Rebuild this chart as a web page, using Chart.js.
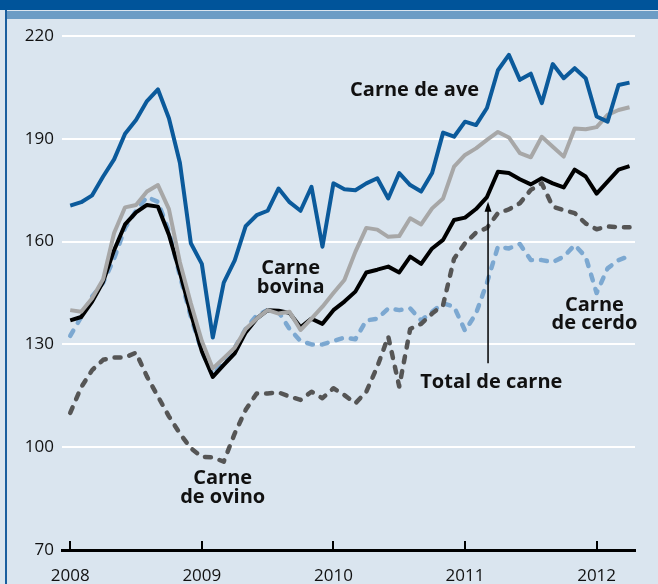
<!DOCTYPE html>
<html>
<head>
<meta charset="utf-8">
<script src="https://cdn.jsdelivr.net/npm/chart.js@4"></script>
<style>
  body { margin: 0; background: #dae5ef; }
  #wrap { position: relative; width: 658px; height: 584px; overflow: hidden; }
  #topBar { position: absolute; left: 0; top: 0; width: 658px; height: 10px; background: #00549a; }
  #subBar { position: absolute; left: 6px; top: 11px; width: 652px; height: 8px; background: #6b9cc5; }
  #leftLine { position: absolute; left: 5px; top: 10px; width: 2px; height: 574px; background: #1a5f9f; }
  canvas { position: absolute; left: 0; top: 0; }
</style>
</head>
<body>
<div id="wrap">
  <canvas id="meatChart" width="658" height="584"></canvas>
  <div id="topBar"></div>
  <div id="subBar"></div>
  <div id="leftLine"></div>
</div>
<script>
// Monthly index values, Jan 2008 (0) .. Apr 2012 (51)
const carneAve = [170.5,171.5,173.5,179,184,191.5,195.5,201,204.4,196,183,159.5,153.5,132,148,154.5,164.5,167.7,169,175.5,171.5,169,176,158.5,177,175.3,175,177,178.5,172.6,180,176.5,174.6,180,191.8,190.6,195,194,199,210,214.5,207.2,209,200.4,211.8,207.7,210.6,207.7,196.5,195,205.7,206.4];
const totalCarne = [137,138,142.5,148.3,157.5,165,168.5,170.7,170.2,162,151,139,128,120.5,124,127.4,133.5,137.5,140,139.8,139.2,135,137.5,136,140,142.5,145.4,151,151.8,152.7,151,155.6,153.5,158,160.5,166.3,167,169.5,173,180.4,180,178.2,176.7,178.5,177,175.8,181,179,174,177.5,181,182];
const carneBovina = [140,139.5,143.5,149,162.5,170,170.7,174.6,176.5,169.5,154,142,131,123,126,129,134.5,137.5,140,139,139.5,134.2,137.5,141,145,148.8,157,164,163.5,161.4,161.6,166.8,165,169.7,172.6,181.9,185.3,187.2,189.7,192,190.4,185.8,184.6,190.6,187.7,184.8,193,192.8,193.4,197,198.4,199.2];
const carneCerdo = [132.5,138,144,148,155,164,169,173,171.6,163,150,138,128,121,125,129,134.5,138.5,140,139.5,134.5,131,130,130,131,132,131.5,137,137.5,140.5,140,140.5,137,139.5,142,141,134,139,148,158.5,158,159.3,154.6,154.6,154,155.6,159,155.6,145,152.2,154.6,155.8];
const carneOvino = [110,117.5,122.5,125.5,126.2,126.2,127.6,120.6,114.8,109,104,99.7,97.2,97,95.8,104,110.9,115.7,115.7,116,114.8,113.8,116.2,114.3,117.2,115.2,112.8,116.2,123.5,132.3,117.7,134.5,136,139,141.5,155,159.5,162.6,164,168.3,169.4,171.2,175.1,177,170.2,169.2,168.3,165.3,163.6,164.4,164.2,164.2];

const yearLabels = ["2008", "2009", "2010", "2011", "2012"];
const yearMonths = [0, 12, 24, 36, 48];
const yTicks = [70, 100, 130, 160, 190, 220];

// label text and where it sits, in data units (month, index value)
const labels = [
    { lines: ["Carne de ave"], x: 31.4, y: [204.2] },
    { lines: ["Carne", "bovina"], x: 20.1, y: [152.3, 146.6] },
    { lines: ["Carne", "de ovino"], x: 13.9, y: [91, 85.4] },
    { lines: ["Carne", "de cerdo"], x: 47.8, y: [141.5, 136.1] },
    { lines: ["Total de carne"], x: 38.4, y: [119] }
];
const arrow = { x: 38.1, from: 124.5, to: 171.6 };

const toPoints = arr => arr.map((v, i) => ({ x: i, y: v }));

const labelPlugin = {
    id: "labels",
    afterDatasetsDraw(chart) {
        const ctx = chart.ctx;
        const xs = chart.scales.x;
        const ys = chart.scales.y;
        ctx.save();
        // tick marks pointing up from the axis
        ctx.strokeStyle = "#000";
        ctx.lineWidth = 2;
        yearMonths.forEach(m => {
            const px = Math.round(xs.getPixelForValue(m));
            ctx.beginPath();
            ctx.moveTo(px, ys.bottom);
            ctx.lineTo(px, ys.bottom - 9);
            ctx.stroke();
        });
        // arrow for total
        const ax = xs.getPixelForValue(arrow.x);
        const y0 = ys.getPixelForValue(arrow.from);
        const y1 = ys.getPixelForValue(arrow.to);
        ctx.lineWidth = 1.5;
        ctx.beginPath();
        ctx.moveTo(ax, y0);
        ctx.lineTo(ax, y1 + 6);
        ctx.stroke();
        ctx.fillStyle = "#000";
        ctx.beginPath();
        ctx.moveTo(ax, y1);
        ctx.lineTo(ax - 3.5, y1 + 10);
        ctx.lineTo(ax + 3.5, y1 + 10);
        ctx.closePath();
        ctx.fill();
        // series names
        ctx.font = "bold 20px 'Open Sans'";
        ctx.textAlign = "center";
        ctx.textBaseline = "middle";
        ctx.fillStyle = "#111";
        labels.forEach(l => {
            l.lines.forEach((t, k) => {
                ctx.fillText(t, xs.getPixelForValue(l.x), ys.getPixelForValue(l.y[k]));
            });
        });
        ctx.restore();
    }
};

const lineStyle = { pointRadius: 0, tension: 0, borderWidth: 4, borderJoinStyle: "round", fill: false };

new Chart(document.getElementById("meatChart"), {
    type: "line",
    data: {
        datasets: [
            { ...lineStyle, label: "Carne de ave", data: toPoints(carneAve), borderColor: "#0b5a9b", order: 1 },
            { ...lineStyle, label: "Carne bovina", data: toPoints(carneBovina), borderColor: "#a7a7a7", order: 2 },
            { ...lineStyle, label: "Total de carne", data: toPoints(totalCarne), borderColor: "#000000", order: 3 },
            { ...lineStyle, label: "Carne de ovino", data: toPoints(carneOvino), borderColor: "#555555", borderWidth: 4.5, borderDash: [6, 9], borderCapStyle: "round", order: 4 },
            { ...lineStyle, label: "Carne de cerdo", data: toPoints(carneCerdo), borderColor: "#7ca8d1", borderWidth: 4.5, borderDash: [6, 9], borderCapStyle: "round", order: 5 }
        ]
    },
    options: {
        responsive: false,
        animation: false,
        devicePixelRatio: 1,
        layout: { padding: { left: 0, top: 36, right: 23, bottom: 0 } },
        plugins: { legend: { display: false }, tooltip: { enabled: false } },
        scales: {
            x: {
                type: "linear",
                min: -0.75,
                max: 51.5,
                afterBuildTicks: s => { s.ticks = yearMonths.map(v => ({ value: v })); },
                afterFit: s => { s.height = 34; },
                grid: { display: false, drawTicks: false },
                border: { display: true, color: "#000", width: 3 },
                ticks: {
                    callback: v => yearLabels[yearMonths.indexOf(v)],
                    color: "#111",
                    font: { family: "Open Sans", size: 17 },
                    padding: 16,
                    maxRotation: 0,
                    autoSkip: false
                }
            },
            y: {
                min: 70,
                max: 220,
                afterBuildTicks: s => { s.ticks = yTicks.map(v => ({ value: v })); },
                afterFit: s => { s.width = 62; },
                grid: {
                    color: ctx => ctx.tick && ctx.tick.value === 70 ? "rgba(0,0,0,0)" : "#ffffff",
                    lineWidth: 2,
                    drawTicks: false
                },
                border: { display: false },
                ticks: {
                    color: "#111",
                    font: { family: "Open Sans", size: 17 },
                    padding: 8
                }
            }
        }
    },
    plugins: [labelPlugin]
});
</script>
</body>
</html>
